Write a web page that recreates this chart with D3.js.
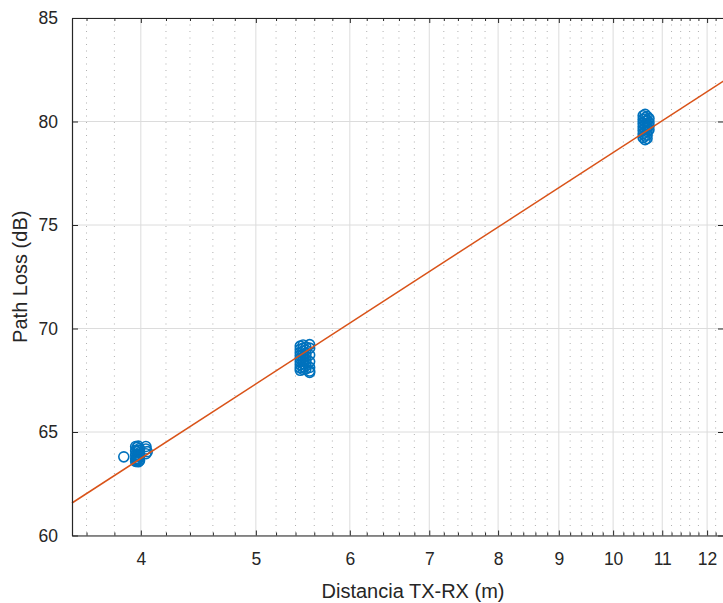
<!DOCTYPE html>
<html>
<meta charset="utf-8">
<head>
    <script src="https://d3js.org/d3.v7.min.js"></script>
    <style>
        body { margin: 0; background: #fff; }
        text { font-family: "Liberation Sans", Arial, sans-serif; fill: #262626; }
    </style>
</head>
<body>
<div id="chart"></div>
<script>

// measured points, one array per distance group
var dist1 = [3.87,
    3.96, 3.96, 3.96, 3.96, 3.96,
    3.97, 3.97, 3.97, 3.97, 3.97,
    3.98, 3.98, 3.98, 3.98, 3.98,
    3.99, 3.99, 3.99, 3.99,
    4.04, 4.04, 4.05, 4.04];
var loss1 = [63.80,
    64.30, 64.10, 63.90, 63.70, 63.58,
    64.25, 64.05, 63.85, 63.65, 63.60,
    64.32, 64.12, 63.92, 63.72, 63.56,
    64.20, 64.00, 63.80, 63.62,
    64.30, 64.18, 64.05, 63.95];

var dist2 = [5.45, 5.45, 5.45, 5.45, 5.45, 5.45, 5.45, 5.45, 5.45,
    5.48, 5.48, 5.48, 5.48, 5.48, 5.48, 5.48, 5.48, 5.48,
    5.51, 5.51, 5.51, 5.51, 5.51, 5.51, 5.51, 5.51,
    5.55, 5.55, 5.55, 5.55, 5.55, 5.55, 5.55];
var loss2 = [69.15, 69.00, 68.85, 68.70, 68.55, 68.40, 68.25, 68.10, 67.98,
    69.20, 69.05, 68.90, 68.75, 68.60, 68.45, 68.30, 68.15, 68.02,
    69.10, 68.95, 68.80, 68.65, 68.50, 68.35, 68.20, 68.05,
    69.22, 69.05, 68.72, 68.40, 68.12, 67.95, 67.88];

var dist3 = [10.60, 10.60, 10.60, 10.60, 10.60, 10.60, 10.60,
    10.64, 10.64, 10.64, 10.64, 10.64, 10.64, 10.64, 10.64,
    10.68, 10.68, 10.68, 10.68, 10.68, 10.68, 10.68,
    10.72, 10.72, 10.72, 10.72];
var loss3 = [80.28, 80.10, 79.92, 79.75, 79.58, 79.40, 79.22,
    80.35, 80.18, 80.00, 79.82, 79.65, 79.48, 79.30, 79.12,
    80.25, 80.05, 79.88, 79.70, 79.52, 79.35, 79.18,
    80.15, 79.95, 79.78, 79.60];

// fitted log-distance model, evaluated at the axis ends
var fitDist = [3.5, 12.4];
var fitLoss = [61.57, 81.97];

var xTicks = [4, 5, 6, 7, 8, 9, 10, 11, 12];
var yTicks = [60, 65, 70, 75, 80, 85];

var W = 723, H = 603;
var mLeft = 72, mTop = 18, mRight = 724, mBottom = 535.5;

var svg = d3.select("#chart").append("svg")
    .attr("width", W).attr("height", H);

var x = d3.scaleLog().domain([3.5, 12.4]).range([mLeft, mRight]);
var y = d3.scaleLinear().domain([60, 85]).range([mBottom, mTop]);

// minor ticks every 0.2 between the major ones
var minor = d3.range(3.6, 12.4, 0.2)
    .map(function(d){ return Math.round(d * 10) / 10; })
    .filter(function(d){ return Math.abs(d - Math.round(d)) > 0.01; });

var grid = svg.append("g");

grid.selectAll("line.minor")
    .data(minor).enter()
    .append("line")
    .attr("x1", function(d){ return x(d); })
    .attr("x2", function(d){ return x(d); })
    .attr("y1", mTop).attr("y2", mBottom)
    .attr("stroke", "#b0b0b0")
    .attr("stroke-width", 1)
    .attr("stroke-dasharray", "1,5.5");

grid.selectAll("line.vmaj")
    .data(xTicks).enter()
    .append("line")
    .attr("x1", function(d){ return x(d); })
    .attr("x2", function(d){ return x(d); })
    .attr("y1", mTop).attr("y2", mBottom)
    .attr("stroke", "#dcdcdc")
    .attr("stroke-width", 1);

grid.selectAll("line.hmaj")
    .data(yTicks).enter()
    .append("line")
    .attr("x1", mLeft).attr("x2", mRight)
    .attr("y1", function(d){ return y(d); })
    .attr("y2", function(d){ return y(d); })
    .attr("stroke", "#dcdcdc")
    .attr("stroke-width", 1);

// fit line
var line = d3.line()
    .x(function(d){ return x(d[0]); })
    .y(function(d){ return y(d[1]); });

var pts = d3.zip(dist1, loss1).concat(d3.zip(dist2, loss2), d3.zip(dist3, loss3));

svg.append("g").selectAll("circle")
    .data(pts).enter()
    .append("circle")
    .attr("cx", function(d){ return x(d[0]); })
    .attr("cy", function(d){ return y(d[1]); })
    .attr("r", 5)
    .attr("fill", "none")
    .attr("stroke", "#0072BD")
    .attr("stroke-width", 1.6);

svg.append("path")
    .datum(d3.zip(fitDist, fitLoss))
    .attr("d", line)
    .attr("fill", "none")
    .attr("stroke", "#D95319")
    .attr("stroke-width", 1.5);

// axes, MATLAB style: ticks inside, box on
var xAxis = svg.append("g").attr("transform", "translate(0," + mBottom + ")")
    .call(d3.axisBottom(x).tickValues(xTicks).tickFormat(d3.format("d")).tickSizeInner(-5).tickSizeOuter(0).tickPadding(17));
var xMinor = svg.append("g").attr("transform", "translate(0," + mBottom + ")")
    .call(d3.axisBottom(x).tickValues(minor).tickFormat("").tickSizeInner(-3).tickSizeOuter(0));
var xTop = svg.append("g").attr("transform", "translate(0," + mTop + ")")
    .call(d3.axisTop(x).tickValues(xTicks).tickFormat("").tickSizeInner(-5).tickSizeOuter(0));
var xTopMinor = svg.append("g").attr("transform", "translate(0," + mTop + ")")
    .call(d3.axisTop(x).tickValues(minor).tickFormat("").tickSizeInner(-3).tickSizeOuter(0));
var yAxis = svg.append("g").attr("transform", "translate(" + mLeft + ",0)")
    .call(d3.axisLeft(y).tickValues(yTicks).tickSizeInner(-6).tickSizeOuter(0).tickPadding(14));
var yRight = svg.append("g").attr("transform", "translate(" + mRight + ",0)")
    .call(d3.axisRight(y).tickValues(yTicks).tickFormat("").tickSizeInner(-6).tickSizeOuter(0));

[xAxis, xMinor, xTop, xTopMinor, yAxis, yRight].forEach(function(g){
    g.selectAll(".domain").attr("stroke", "#262626").attr("stroke-width", 1.2);
    g.selectAll(".tick line").attr("stroke", "#262626");
});
[xMinor, xTopMinor].forEach(function(g){ g.select(".domain").remove(); });
xAxis.selectAll("text").style("font-size", "17.5px").attr("fill", "#262626");
yAxis.selectAll("text").style("font-size", "17.5px").attr("fill", "#262626");

svg.append("text")
    .attr("x", 413).attr("y", 598)
    .attr("text-anchor", "middle")
    .style("font-size", "20px")
    .text("Distancia TX-RX (m)");

svg.append("text")
    .attr("transform", "translate(27," + ((mTop + mBottom) / 2) + ") rotate(-90)")
    .attr("text-anchor", "middle")
    .style("font-size", "20px")
    .text("Path Loss (dB)");

</script>
</body>
</html>
